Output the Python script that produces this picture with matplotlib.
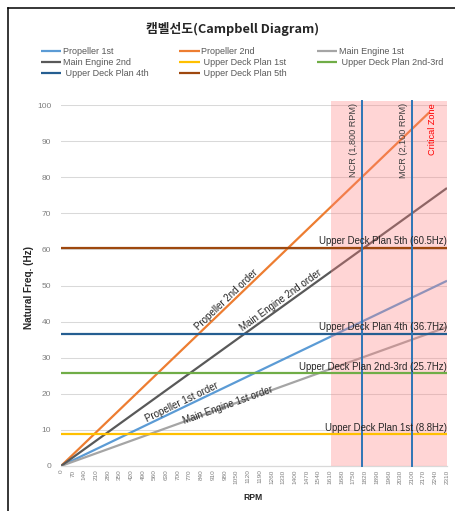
import math
import matplotlib
matplotlib.use("Agg")
import matplotlib.pyplot as plt
from matplotlib.lines import Line2D

plt.rcParams['font.family'] = ['Liberation Sans', 'DejaVu Sans']

# ---------------- data ----------------
rpm_ticks = [0, 70, 140, 210, 280, 350, 420, 490, 560, 630, 700, 770, 840, 910,
             980, 1050, 1120, 1190, 1260, 1330, 1400, 1470, 1540, 1610, 1680,
             1750, 1820, 1890, 1960, 2030, 2100, 2170, 2240, 2310]
y_ticks = [0, 10, 20, 30, 40, 50, 60, 70, 80, 90, 100]

# excitation order lines (rpm, Hz) read at the ends of each line
prop1_rpm, prop1_hz = [0, 2310], [0, 51.3]
prop2_rpm, prop2_hz = [0, 2205], [0, 98.0]
me1_rpm, me1_hz = [0, 2310], [0, 38.5]
me2_rpm, me2_hz = [0, 2310], [0, 77.0]

# natural frequencies of the upper deck
deck_names = ['Upper Deck Plan 1st', 'Upper Deck Plan 2nd-3rd',
              'Upper Deck Plan 4th', 'Upper Deck Plan 5th']
deck_hz = [8.8, 25.7, 36.7, 60.5]
deck_span = [0, 2310]

ncr_rpm = 1800
mcr_rpm = 2100
zone_rpm = [1615, 2310]
zone_top = 101.2

# ---------------- figure ----------------
W, H = 455, 511
fig = plt.figure(figsize=(W / 100, H / 100), dpi=100)


def fx(px):
    return px / W


def fy(py):
    return 1 - py / H


ax = fig.add_axes([fx(61), fy(466), (447 - 61) / W, (466 - 105) / H])
ax.set_xlim(0, 2310)
ax.set_ylim(0, 100)

c_p1, c_p2, c_me1, c_me2 = '#5B9BD5', '#ED7D31', '#A5A5A5', '#595959'
deck_colors = ['#FFC000', '#70AD47', '#255E91', '#9E480E']
lw = 1.6

h_p1, = ax.plot(prop1_rpm, prop1_hz, color=c_p1, lw=lw, zorder=2, solid_capstyle='butt')
h_p2, = ax.plot(prop2_rpm, prop2_hz, color=c_p2, lw=lw, zorder=2, solid_capstyle='butt')
h_me1, = ax.plot(me1_rpm, me1_hz, color=c_me1, lw=lw, zorder=2, solid_capstyle='butt')
h_me2, = ax.plot(me2_rpm, me2_hz, color=c_me2, lw=lw, zorder=2, solid_capstyle='butt')

# critical zone (drawn over the order lines, translucent)
ax.fill_between(zone_rpm, 0, zone_top, color='#FF8080', alpha=0.33, lw=0,
                zorder=3, clip_on=False)

deck_handles = []
for name, v, c in zip(deck_names, deck_hz, deck_colors):
    h, = ax.plot(deck_span, [v, v], color=c, lw=lw, zorder=4, solid_capstyle='butt')
    deck_handles.append(h)
    ax.text(deck_span[1], v + 0.4, f'{name} ({v}Hz)', ha='right', va='bottom',
            fontsize=6.9, color='#262626', zorder=6)

for r in (ncr_rpm, mcr_rpm):
    ax.plot([r, r], [0, zone_top], color='#2E75B6', lw=1.4, zorder=5, clip_on=False)

ax.text(1748, 100.6, 'NCR (1,800 RPM)', rotation=90, ha='center', va='top',
        fontsize=6.6, color='#404040', zorder=6)
ax.text(2052, 100.6, 'MCR (2,100 RPM)', rotation=90, ha='center', va='top',
        fontsize=6.6, color='#404040', zorder=6)
ax.text(2226, 100.6, 'Critical Zone', rotation=90, ha='center', va='top',
        fontsize=6.6, color='#FF0000', zorder=6)


def angle(slope):
    p0 = ax.transData.transform((0, 0))
    p1 = ax.transData.transform((1000, 1000 * slope))
    return math.degrees(math.atan2(p1[1] - p0[1], p1[0] - p0[0]))


order_labels = [
    ('Propeller 2nd order', prop2_hz[1] / prop2_rpm[1], 989, 46.2),
    ('Main Engine 2nd order', me2_hz[1] / me2_rpm[1], 1315, 45.9),
    ('Propeller 1st order', prop1_hz[1] / prop1_rpm[1], 726, 17.6),
    ('Main Engine 1st order', me1_hz[1] / me1_rpm[1], 998, 16.9),
]
for txt, s, x, y in order_labels:
    ax.text(x, y, txt, rotation=angle(s), rotation_mode='anchor', ha='center',
            va='center', fontsize=7, color='#262626', zorder=6)

# axes styling
ax.set_xticks(rpm_ticks)
ax.set_xticklabels([str(t) for t in rpm_ticks], rotation=90, fontsize=4.6,
                   color='#7F7F7F')
ax.set_yticks(y_ticks)
ax.set_yticklabels([str(t) for t in y_ticks], fontsize=6, color='#7F7F7F')
ax.tick_params(axis='x', length=0, pad=2.5)
ax.tick_params(axis='y', length=0, pad=7)
ax.grid(axis='y', color='#D9D9D9', lw=0.75, zorder=0)
ax.set_axisbelow(True)
for s in ('top', 'right', 'left'):
    ax.spines[s].set_visible(False)
ax.spines['bottom'].set_color('#D9D9D9')
ax.spines['bottom'].set_linewidth(0.9)

fig.text(fx(253), fy(497), 'RPM', ha='center', va='center', fontsize=6.2,
         weight='bold', color='#262626')
fig.text(fx(29), fy(287), 'Natural Freq. (Hz)', ha='center', va='center',
         rotation=90, fontsize=7.2, weight='bold', color='#262626')

fig.text(fx(232.5), fy(29), '캠벨선도(Campbell Diagram)', ha='center', va='center',
         fontsize=9.2, weight='bold', color='#262626',
         family=['Noto Sans CJK KR', 'DejaVu Sans'])

# legend in three columns
cols = [
    ([h_p1, h_me2, deck_handles[2]], ['Propeller 1st', 'Main Engine 2nd', ' ' + deck_names[2]], 40.7),
    ([h_p2, deck_handles[0], deck_handles[3]], ['Propeller 2nd', ' ' + deck_names[0], ' ' + deck_names[3]], 179),
    ([h_me1, deck_handles[1]], ['Main Engine 1st', ' ' + deck_names[1]], 316.7),
]
for hs, ls, x in cols:
    fig.legend(hs, ls, loc='upper left', bbox_to_anchor=(fx(x), fy(47)),
               frameon=False, fontsize=6.5, handlelength=2.3, handletextpad=0.18,
               labelspacing=0.24, borderpad=0, borderaxespad=0, labelcolor='#595959')

# chart border (top and left)
fig.add_artist(Line2D([fx(8), 1], [fy(8), fy(8)], transform=fig.transFigure,
                      color='black', lw=1.1))
fig.add_artist(Line2D([fx(8), fx(8)], [0, fy(8)], transform=fig.transFigure,
                      color='black', lw=1.1))

fig.savefig('out.png', dpi=100)
